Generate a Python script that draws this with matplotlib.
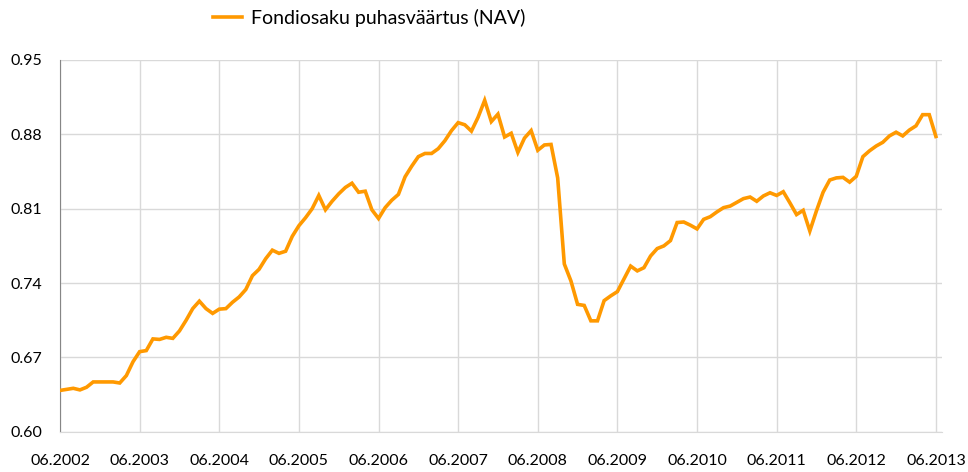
import matplotlib
matplotlib.use("Agg")
import matplotlib.pyplot as plt

plt.rcParams["font.family"] = ["Lato", "DejaVu Sans"]

# ============ data (monthly NAV, 06.2002 .. 06.2013) ============
SERIES_LABEL = "Fondiosaku puhasväärtus (NAV)"
nav = [
    0.639, 0.640, 0.641, 0.6395, 0.642, 0.647, 0.647, 0.647, 0.647, 0.646, 0.653, 0.666,   # 2002/03
    0.6755, 0.6765, 0.6875, 0.687, 0.689, 0.688, 0.695, 0.705, 0.716, 0.723, 0.716, 0.7115,  # 2003/04
    0.7155, 0.716, 0.722, 0.727, 0.734, 0.747, 0.753, 0.763, 0.771, 0.768, 0.770, 0.784,     # 2004/05
    0.794, 0.8015, 0.810, 0.8225, 0.809, 0.817, 0.824, 0.830, 0.834, 0.8255, 0.8265, 0.809,  # 2005/06
    0.8008, 0.811, 0.818, 0.8235, 0.840, 0.850, 0.859, 0.862, 0.862, 0.8665, 0.874, 0.8835, # 2006/07
    0.891, 0.889, 0.883, 0.896, 0.912, 0.892, 0.899, 0.8775, 0.881, 0.863, 0.8765, 0.8835,  # 2007/08
    0.865, 0.870, 0.8705, 0.839, 0.758, 0.742, 0.720, 0.719, 0.7045, 0.7045, 0.7235, 0.728, # 2008/09
    0.732, 0.744, 0.756, 0.7515, 0.7545, 0.7655, 0.7725, 0.775, 0.780, 0.797, 0.7975, 0.7945, # 2009/10
    0.791, 0.800, 0.8025, 0.807, 0.811, 0.8125, 0.816, 0.8195, 0.821, 0.817, 0.822, 0.825,  # 2010/11
    0.8225, 0.826, 0.8155, 0.8045, 0.8085, 0.789, 0.808, 0.8255, 0.837, 0.839, 0.8395, 0.835, # 2011/12
    0.8405, 0.859, 0.8645, 0.869, 0.8725, 0.8785, 0.882, 0.8785, 0.884, 0.888, 0.8985, 0.8985, # 2012/13
    0.878,
]
months = list(range(len(nav)))
tick_years = list(range(2002, 2014))
tick_labels = [f"06.{y}" for y in tick_years]
y_ticks = [0.60, 0.67, 0.74, 0.81, 0.88, 0.95]

# ============ plot ============
fig = plt.figure(figsize=(9.68, 4.72), dpi=100)
ax = fig.add_axes([0.062, 0.085, 0.911, 0.788])

ax.plot(months, nav, color="#FF9900", linewidth=2.6, solid_joinstyle="miter",
        label=SERIES_LABEL, zorder=3)

ax.set_xlim(0, 132.9)
ax.set_ylim(0.60, 0.95)
ax.set_xticks([12 * i for i in range(len(tick_years))])
ax.set_xticklabels(tick_labels)
ax.set_yticks(y_ticks)
ax.set_yticklabels([f"{v:.2f}" for v in y_ticks])

ax.grid(True, color="#d9d9d9", linewidth=1)
ax.set_axisbelow(True)
for side in ["top", "right"]:
    ax.spines[side].set_visible(False)
ax.spines["left"].set_color("#868686")
ax.spines["bottom"].set_color("#d9d9d9")
ax.tick_params(axis="both", length=0, labelsize=11.5, colors="#000000")
ax.tick_params(axis="y", pad=13)
ax.tick_params(axis="x", pad=16)

fig.legend(loc="center", bbox_to_anchor=(0.381, 0.962), frameon=False,
           fontsize=14, handlelength=1.5, handletextpad=0.45)

fig.savefig("out.png", dpi=100, facecolor="white")
